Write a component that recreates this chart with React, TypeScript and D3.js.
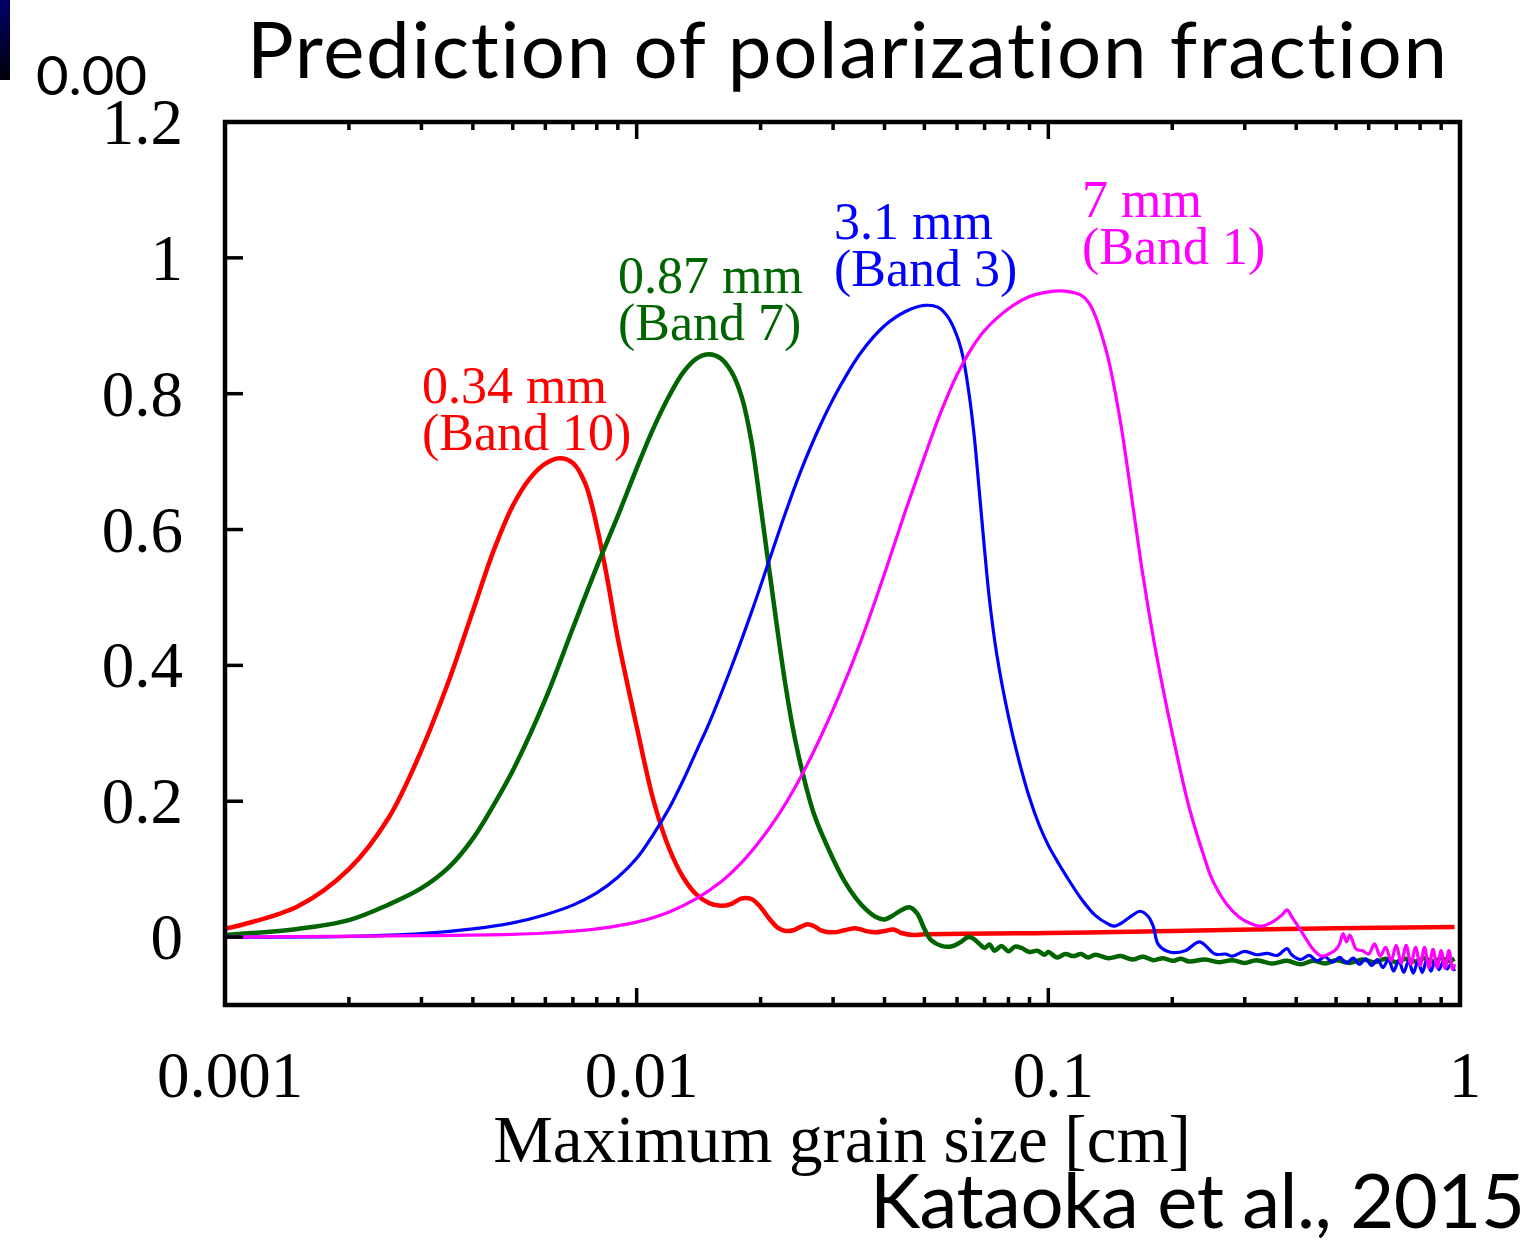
import React from "react";
import * as d3 from "d3";

// ---- data: [max grain size (cm), polarization fraction] ----
const band10: [number, number][] = [
  [0.001, 0.012], [0.0015, 0.045], [0.002, 0.1], [0.0025, 0.176], [0.003, 0.275],
  [0.0035, 0.378], [0.004, 0.48], [0.0045, 0.57], [0.005, 0.635], [0.0055, 0.675],
  [0.006, 0.697], [0.0065, 0.705], [0.007, 0.698], [0.0075, 0.668], [0.008, 0.605],
  [0.0085, 0.525], [0.009, 0.44], [0.01, 0.31], [0.011, 0.2], [0.012, 0.13],
  [0.013, 0.087], [0.014, 0.062], [0.015, 0.05], [0.016, 0.046], [0.017, 0.049],
  [0.018, 0.057], [0.019, 0.056], [0.02, 0.044], [0.021, 0.027], [0.022, 0.014],
  [0.023, 0.009], [0.024, 0.01], [0.025, 0.015], [0.026, 0.019], [0.027, 0.016],
  [0.028, 0.01], [0.03, 0.007], [0.032, 0.01], [0.034, 0.013], [0.036, 0.009],
  [0.038, 0.007], [0.04, 0.009], [0.042, 0.011], [0.044, 0.006], [0.047, 0.003],
  [0.05, 0.004], [0.1, 0.006], [0.2, 0.009], [0.5, 0.013], [0.97, 0.015],
];

const band7: [number, number][] = [
  [0.001, 0.003], [0.0015, 0.012], [0.002, 0.025], [0.0025, 0.048], [0.003, 0.072],
  [0.0035, 0.103], [0.004, 0.145], [0.0045, 0.195], [0.005, 0.245], [0.006, 0.35],
  [0.007, 0.455], [0.008, 0.545], [0.009, 0.62], [0.01, 0.69],
  [0.011, 0.75], [0.012, 0.797], [0.013, 0.832], [0.014, 0.852], [0.015, 0.858],
  [0.016, 0.852], [0.017, 0.832], [0.018, 0.795], [0.019, 0.73], [0.02, 0.635],
  [0.021, 0.54], [0.022, 0.45], [0.023, 0.37], [0.024, 0.305], [0.025, 0.255],
  [0.027, 0.18], [0.03, 0.115], [0.032, 0.082], [0.034, 0.058], [0.036, 0.041],
  [0.038, 0.03], [0.04, 0.026], [0.042, 0.032], [0.044, 0.04], [0.046, 0.044],
  [0.048, 0.035], [0.05, 0.012], [0.052, -0.005], [0.055, -0.013], [0.058, -0.014],
  [0.061, -0.008], [0.064, 0.0], [0.066, -0.003], [0.068, -0.01], [0.07, -0.016],
  [0.072, -0.011], [0.074, -0.02], [0.077, -0.013], [0.08, -0.021], [0.083, -0.014],
  [0.086, -0.016], [0.09, -0.022], [0.094, -0.02], [0.098, -0.026], [0.1, -0.022],
  [0.105, -0.03], [0.11, -0.025], [0.115, -0.028], [0.12, -0.025], [0.125, -0.03],
  [0.13, -0.026], [0.14, -0.031], [0.15, -0.028], [0.16, -0.033], [0.17, -0.029],
  [0.18, -0.034], [0.19, -0.031], [0.2, -0.035], [0.21, -0.032], [0.22, -0.036],
  [0.24, -0.033], [0.26, -0.037], [0.28, -0.034], [0.3, -0.038], [0.32, -0.034],
  [0.35, -0.039], [0.38, -0.035], [0.41, -0.04], [0.44, -0.035], [0.47, -0.039],
  [0.5, -0.034], [0.54, -0.038], [0.58, -0.033], [0.62, -0.037], [0.66, -0.032],
  [0.7, -0.037], [0.74, -0.032], [0.78, -0.036], [0.82, -0.031], [0.86, -0.036],
  [0.9, -0.031], [0.94, -0.035], [0.97, -0.032],
];

const band3: [number, number][] = [
  [0.001, 0.0], [0.002, 0.001], [0.003, 0.005], [0.004, 0.012], [0.005, 0.021],
  [0.006, 0.033], [0.007, 0.047], [0.008, 0.065], [0.009, 0.088], [0.01, 0.116],
  [0.011, 0.152], [0.012, 0.19], [0.013, 0.232], [0.014, 0.275], [0.015, 0.315],
  [0.017, 0.398], [0.019, 0.478], [0.021, 0.555], [0.023, 0.625], [0.025, 0.685],
  [0.028, 0.755], [0.031, 0.808], [0.035, 0.86], [0.04, 0.9], [0.045, 0.921],
  [0.05, 0.93], [0.054, 0.927], [0.057, 0.913], [0.06, 0.885], [0.062, 0.855],
  [0.064, 0.805], [0.066, 0.74], [0.068, 0.655], [0.07, 0.57], [0.072, 0.495],
  [0.075, 0.415], [0.08, 0.325], [0.085, 0.258], [0.09, 0.205], [0.095, 0.165],
  [0.1, 0.135], [0.106, 0.108], [0.11, 0.092], [0.12, 0.057], [0.13, 0.032],
  [0.14, 0.019], [0.145, 0.016], [0.15, 0.02], [0.16, 0.032], [0.167, 0.038],
  [0.175, 0.03], [0.18, 0.015], [0.185, -0.011], [0.197, -0.022], [0.215, -0.02],
  [0.233, -0.007], [0.254, -0.025], [0.27, -0.025], [0.28, -0.028], [0.3, -0.021],
  [0.32, -0.026], [0.34, -0.024], [0.36, -0.027], [0.38, -0.017], [0.39, -0.026],
  [0.41, -0.033], [0.43, -0.027], [0.45, -0.035], [0.47, -0.029], [0.49, -0.037],
  [0.51, -0.03], [0.53, -0.038], [0.55, -0.031], [0.57, -0.04], [0.59, -0.032],
  [0.61, -0.042], [0.63, -0.033], [0.65, -0.045], [0.67, -0.033], [0.69, -0.05],
  [0.71, -0.034], [0.73, -0.052], [0.75, -0.035], [0.77, -0.053], [0.79, -0.036],
  [0.81, -0.052], [0.83, -0.034], [0.85, -0.05], [0.87, -0.035], [0.89, -0.048],
  [0.91, -0.036], [0.93, -0.047], [0.95, -0.04], [0.97, -0.05],
];

const band1: [number, number][] = [
  [0.001, 0.0], [0.003, 0.002], [0.005, 0.004], [0.006, 0.006], [0.008, 0.012],
  [0.01, 0.022], [0.012, 0.037], [0.014, 0.057], [0.016, 0.081], [0.018, 0.11],
  [0.02, 0.143], [0.022, 0.178], [0.025, 0.235], [0.028, 0.295], [0.031, 0.355],
  [0.035, 0.435], [0.04, 0.535], [0.045, 0.628], [0.05, 0.707], [0.055, 0.775],
  [0.06, 0.828], [0.065, 0.866], [0.07, 0.893], [0.08, 0.925], [0.09, 0.943],
  [0.1, 0.95], [0.11, 0.951], [0.12, 0.945], [0.125, 0.935], [0.13, 0.915],
  [0.135, 0.885], [0.14, 0.85], [0.15, 0.755], [0.16, 0.64], [0.17, 0.53], [0.18, 0.44],
  [0.19, 0.365], [0.2, 0.3], [0.22, 0.19], [0.24, 0.115], [0.25, 0.085],
  [0.27, 0.05], [0.29, 0.03], [0.31, 0.02], [0.33, 0.016], [0.35, 0.022],
  [0.37, 0.033], [0.38, 0.04], [0.39, 0.03], [0.4, 0.02], [0.42, 0.0],
  [0.44, -0.018], [0.46, -0.028], [0.48, -0.025], [0.5, -0.018], [0.51, -0.01],
  [0.52, 0.005], [0.53, -0.007], [0.54, 0.003], [0.56, -0.018], [0.58, -0.02],
  [0.6, -0.025], [0.62, -0.01], [0.64, -0.028], [0.66, -0.015], [0.68, -0.035],
  [0.7, -0.012], [0.72, -0.038], [0.74, -0.012], [0.76, -0.04], [0.78, -0.015],
  [0.8, -0.042], [0.82, -0.015], [0.84, -0.045], [0.86, -0.018], [0.88, -0.045],
  [0.9, -0.02], [0.92, -0.046], [0.94, -0.02], [0.96, -0.048], [0.97, -0.04],
];

const xTickValues = [0.001, 0.01, 0.1, 1];
const xTickLabels = ["0.001", "0.01", "0.1", "1"];
const yTickValues = [0, 0.2, 0.4, 0.6, 0.8, 1, 1.2];
const yTickLabels = ["0", "0.2", "0.4", "0.6", "0.8", "1", "1.2"];

const seriesLabels = [
  { lines: ["0.34 mm", "(Band 10)"], color: "#ff0000", x: 422, y: 403 },
  { lines: ["0.87 mm", "(Band 7)"], color: "#006400", x: 618, y: 293 },
  { lines: ["3.1 mm", "(Band 3)"], color: "#0000ff", x: 834, y: 239 },
  { lines: ["7 mm", "(Band 1)"], color: "#ff00ff", x: 1082, y: 217 },
];

const series = [
  { data: band10, color: "#ff0000", width: 4.5 },
  { data: band7, color: "#006400", width: 4.5 },
  { data: band3, color: "#0000ff", width: 3.2 },
  { data: band1, color: "#ff00ff", width: 3.2 },
];

const L = 225, R = 1460, T = 122, B = 1005;
const serif = "'Liberation Serif', 'Times New Roman', serif";
const sans = "Lato, 'Open Sans', sans-serif";

export default function App() {
  const x = d3.scaleLog().domain([0.001, 1]).range([L, R]);
  const y = d3.scaleLinear().domain([-0.1, 1.2]).range([B, T]);
  const line = d3
    .line<[number, number]>()
    .x((d) => x(d[0]))
    .y((d) => y(d[1]))
    .curve(d3.curveCatmullRom.alpha(0.5));

  const minor: number[] = [];
  for (const dec of [0.001, 0.01, 0.1]) {
    for (let k = 2; k <= 9; k++) minor.push(dec * k);
  }

  return (
    <svg
      width={1536}
      height={1240}
      style={{ position: "absolute", left: 0, top: 0, background: "#fff" }}
    >
      <defs>
        <linearGradient id="bar" x1="0" y1="0" x2="0" y2="1">
          <stop offset="0" stopColor="#00006a" />
          <stop offset="1" stopColor="#000008" />
        </linearGradient>
        <clipPath id="plot">
          <rect x={L} y={T} width={R - L} height={B - T} />
        </clipPath>
      </defs>
      <rect x={0} y={0} width={1536} height={1240} fill="#fff" />
      <rect x={0} y={0} width={10} height={80} fill="url(#bar)" />
      <text x={36} y={95} fontFamily={sans} fontSize={54} fill="#000"
        textLength={111} lengthAdjust="spacingAndGlyphs">0.00</text>
      <text x={247} y={78} fontFamily={sans} fontSize={78} fill="#000"
        textLength={1200} lengthAdjust="spacing" style={{ fontVariantLigatures: "none" }}>
        Prediction of polarization fraction
      </text>

      {/* curves */}
      <g clipPath="url(#plot)">
        {series.map((s, i) => (
          <path
            key={i}
            d={line(s.data) || ""}
            fill="none"
            stroke={s.color}
            strokeWidth={s.width}
            strokeLinejoin="round"
          />
        ))}
      </g>

      {/* ticks */}
      <g stroke="#000" strokeWidth={3.5}>
        {xTickValues.map((v, i) => (
          <g key={"xt" + i}>
            <line x1={x(v)} x2={x(v)} y1={B} y2={B - 17} />
            <line x1={x(v)} x2={x(v)} y1={T} y2={T + 17} />
          </g>
        ))}
        {minor.map((v, i) => (
          <g key={"xm" + i}>
            <line x1={x(v)} x2={x(v)} y1={B} y2={B - 8} />
            <line x1={x(v)} x2={x(v)} y1={T} y2={T + 8} />
          </g>
        ))}
        {yTickValues.map((v, i) => (
          <line key={"yt" + i} x1={L} x2={L + 18} y1={y(v)} y2={y(v)} />
        ))}
      </g>

      {/* frame */}
      <rect x={L} y={T} width={R - L} height={B - T} fill="none" stroke="#000" strokeWidth={4.5} />

      {/* tick labels */}
      <g fontFamily={serif} fontSize={65} fill="#000">
        {xTickValues.map((v, i) => (
          <text key={"xl" + i} x={x(v) + 5} y={1097} textAnchor="middle">
            {xTickLabels[i]}
          </text>
        ))}
        {yTickValues.map((v, i) => (
          <text key={"yl" + i} x={183} y={y(v) + 22} textAnchor="end">
            {yTickLabels[i]}
          </text>
        ))}
      </g>
      <text x={842} y={1162} textAnchor="middle" fontFamily={serif} fontSize={67} fill="#000">
        Maximum grain size [cm]
      </text>

      {/* series labels */}
      {seriesLabels.map((s, i) => (
        <text key={"sl" + i} fontFamily={serif} fontSize={52} fill={s.color}>
          {s.lines.map((t, j) => (
            <tspan key={j} x={s.x} y={s.y + j * 47}>
              {t}
            </tspan>
          ))}
        </text>
      ))}

      <text x={870} y={1228} fontFamily={sans} fontSize={76} fill="#000"
        textLength={655} lengthAdjust="spacing">
        Kataoka et al., 2015
      </text>
    </svg>
  );
}
